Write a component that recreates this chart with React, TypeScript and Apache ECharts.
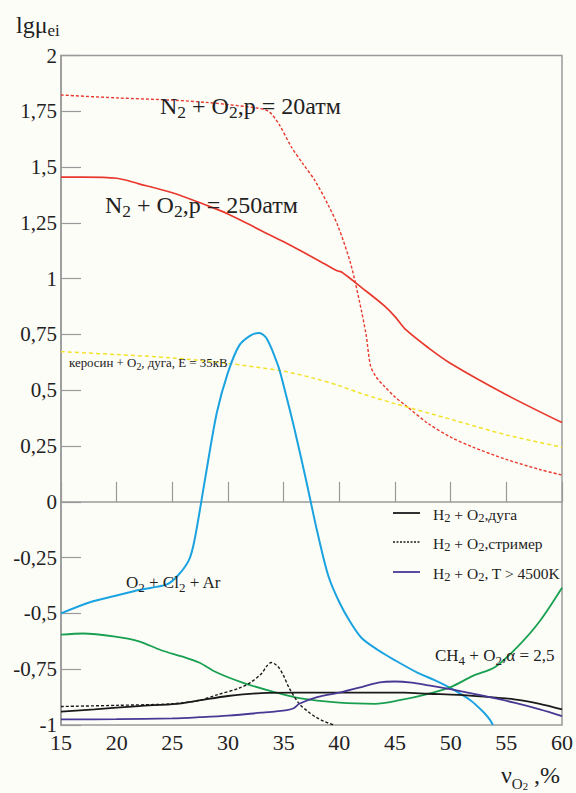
import React, { useEffect, useRef } from "react";
import * as echarts from "echarts";

const SERIF = "Liberation Serif";

// [vO2 %, lg mu_ei]
const n2o2p20: [number, number][] = [
  [15, 1.823], [20, 1.81], [25, 1.8], [28, 1.79], [30, 1.78], [32.8, 1.763], [33.7, 1.748],
  [34.6, 1.69], [35.7, 1.59], [36.8, 1.51], [37.8, 1.44], [39, 1.33], [39.9, 1.233],
  [41, 1.07], [41.8, 0.9], [42.4, 0.75], [42.8, 0.61], [43.3, 0.56], [44, 0.52], [45, 0.47],
  [46, 0.43], [48, 0.35], [50, 0.29], [52, 0.245], [55, 0.19], [58, 0.145], [60, 0.12],
];
const n2o2p250: [number, number][] = [
  [15, 1.455], [17, 1.455], [20, 1.45], [22, 1.425], [25, 1.385], [28, 1.33], [30, 1.29],
  [33, 1.215], [35, 1.165], [38, 1.085], [39.8, 1.035], [40.2, 1.03], [42, 0.96], [44, 0.88],
  [45, 0.83], [46, 0.77], [48, 0.69], [50, 0.62], [55, 0.48], [60, 0.355],
];
const kerosene: [number, number][] = [
  [15, 0.673], [20, 0.66], [25, 0.645], [30, 0.62], [35, 0.585], [38, 0.55], [40, 0.52],
  [42, 0.485], [45, 0.44], [50, 0.37], [55, 0.3], [60, 0.245],
];
const o2cl2ar: [number, number][] = [
  [15, -0.5], [17.6, -0.45], [20, -0.42], [22, -0.395], [24.5, -0.37], [25.5, -0.33],
  [26.5, -0.26], [27, -0.17], [28, 0.12], [29, 0.4], [30, 0.58], [31, 0.7], [32, 0.745],
  [32.8, 0.757], [33.5, 0.73], [34.5, 0.61], [35, 0.52], [36, 0.32], [37, 0.1], [38, -0.13],
  [39, -0.33], [40, -0.45], [41, -0.54], [42, -0.61], [43.5, -0.665], [45, -0.71], [47, -0.765],
  [48.6, -0.8], [50, -0.835], [51.8, -0.89], [53, -0.945], [53.5, -0.975], [53.8, -1.0],
];
const ch4o2: [number, number][] = [
  [15, -0.595], [17, -0.59], [20, -0.605], [22, -0.625], [24, -0.665], [26, -0.695],
  [27.4, -0.72], [29, -0.765], [31.3, -0.81], [34, -0.85], [36.4, -0.88], [40, -0.9],
  [43.2, -0.905], [45.3, -0.89], [48, -0.86], [50, -0.83], [52, -0.78], [54, -0.74],
  [56, -0.65], [58, -0.535], [60, -0.385],
];
const h2o2Arc: [number, number][] = [
  [15, -0.94], [18, -0.93], [22, -0.915], [25.4, -0.905], [27.4, -0.89], [30, -0.87],
  [33, -0.857], [36, -0.855], [40, -0.855], [45.8, -0.855], [48, -0.86], [50.7, -0.865],
  [53, -0.873], [55.7, -0.885], [58, -0.905], [60, -0.93],
];
const h2o2Streamer: [number, number][] = [
  [15, -0.917], [20, -0.912], [25, -0.905], [27.4, -0.89], [29, -0.865], [31, -0.835],
  [32, -0.81], [33, -0.77], [33.5, -0.735], [33.9, -0.72], [34.3, -0.73], [34.6, -0.745],
  [35, -0.78], [35.5, -0.835], [36.4, -0.905], [37.2, -0.94], [37.9, -0.965], [38.7, -0.985],
  [39.5, -1.0],
];
const h2o2Hot: [number, number][] = [
  [15, -0.975], [20, -0.974], [25, -0.97], [27.4, -0.965], [30, -0.958], [33, -0.945],
  [35.3, -0.933], [35.9, -0.925], [36.4, -0.905], [38, -0.875], [40, -0.855], [42, -0.83],
  [43.5, -0.81], [45, -0.805], [46.5, -0.81], [48, -0.822], [50.1, -0.84], [53, -0.87],
  [55.7, -0.9], [58, -0.93], [60, -0.96],
];

// text parts: [text, level] level 0 normal, 1 subscript, 2 sub-subscript
type Part = [string, number];
const yTitle: Part[] = [["lg", 0], ["μ", 0], ["ei", 1]];
const xTitle: Part[] = [["ν", 0], ["O", 1], ["2", 2], [" ,%", 0]];
const labelP20: Part[] = [["N", 0], ["2", 1], [" + O", 0], ["2", 1], [",p = 20атм", 0]];
const labelP250: Part[] = [["N", 0], ["2", 1], [" + O", 0], ["2", 1], [",p = 250атм", 0]];
const labelKerosene: Part[] = [["керосин + O", 0], ["2", 1], [", дуга, E = 35кВ", 0]];
const labelCl: Part[] = [["O", 0], ["2", 1], [" + Cl", 0], ["2", 1], [" + Ar", 0]];
const labelCH4: Part[] = [["CH", 0], ["4", 1], [" + O", 0], ["2", 1], [",α = 2,5", 0]];
const legendArc: Part[] = [["H", 0], ["2", 1], [" + O", 0], ["2", 1], [",дуга", 0]];
const legendStreamer: Part[] = [["H", 0], ["2", 1], [" + O", 0], ["2", 1], [",стример", 0]];
const legendHot: Part[] = [["H", 0], ["2", 1], [" + O", 0], ["2", 1], [", T > 4500K", 0]];

const INK = "#222222";

// F: main font size; s: subscript size; D: drop of the subscript centre (px)
function richText(x: number, yMid: number, parts: Part[], F: number, s: number, D: number, family = SERIF) {
  const s2 = s * 0.72;
  const Lmax = 2 * D + s;
  const rich: any = {
    n: { fontSize: F, fontFamily: family, lineHeight: Lmax, verticalAlign: "middle", fill: INK },
    s: { fontSize: s, fontFamily: family, lineHeight: s, verticalAlign: "bottom", fill: INK },
    t: { fontSize: s2, fontFamily: family, lineHeight: s2, verticalAlign: "bottom", fill: INK },
  };
  const text = parts.map(([t, l]) => `{${"nst"[l]}|${t}}`).join("");
  return {
    type: "text", x, y: yMid - Lmax / 2, z: 100,
    style: { text, rich, align: "left", verticalAlign: "top", fill: INK, fontFamily: family, fontSize: F },
  };
}

export default function App() {
  const ref = useRef<HTMLDivElement>(null);
  useEffect(() => {
    if (!ref.current) return;
    const chart = echarts.init(ref.current, undefined, { renderer: "svg" });
    const grey = "#9a9a9a";
    const line = (name: string, data: [number, number][], color: string, width: number, type: any) => ({
      name, type: "line", data, symbol: "none", showSymbol: false, smooth: 0.3,
      lineStyle: { color, width, type }, z: 5,
    });
    const legendY = [513, 542, 572];
    chart.setOption({
      animation: false,
      backgroundColor: "#fdfdf8",
      grid: { left: 61, right: 11, top: 55.5, bottom: 68, show: true, borderColor: grey, borderWidth: 1.5 },
      xAxis: {
        type: "value", min: 15, max: 60, interval: 5,
        axisLine: { show: true, lineStyle: { color: grey, width: 1.5 } },
        axisTick: { show: true, inside: true, length: 20, lineStyle: { color: grey, width: 1.2 } },
        axisLabel: { fontFamily: SERIF, fontSize: 22, color: INK, margin: 6 },
        splitLine: { show: false },
      },
      yAxis: {
        type: "value", min: -1, max: 2, interval: 0.25,
        axisLine: { show: true, lineStyle: { color: grey, width: 1.5 } },
        axisTick: { show: true, inside: true, length: 20, lineStyle: { color: grey, width: 1.2 } },
        axisLabel: {
          fontFamily: SERIF, fontSize: 21, color: INK, margin: 4,
          formatter: (v: number) => String(v).replace(".", ","),
        },
        splitLine: { show: false },
      },
      series: [
        line("N2 + O2, p = 20атм", n2o2p20, "#e8392e", 1.4, [3, 2]),
        line("N2 + O2, p = 250атм", n2o2p250, "#e8392e", 1.7, "solid"),
        line("керосин + O2, дуга, E = 35кВ", kerosene, "#f2e22a", 1.5, [4, 3]),
        line("O2 + Cl2 + Ar", o2cl2ar, "#1aa3e0", 2, "solid"),
        line("CH4 + O2, α = 2,5", ch4o2, "#18a050", 1.8, "solid"),
        line("H2 + O2, дуга", h2o2Arc, "#1a1a1a", 1.8, "solid"),
        line("H2 + O2, стример", h2o2Streamer, "#1a1a1a", 1.4, [3, 2]),
        line("H2 + O2, T > 4500K", h2o2Hot, "#4a3895", 1.8, "solid"),
      ],
      graphic: [
        richText(16, 25, yTitle, 24, 17, 5),
        richText(501, 775, xTitle, 24, 15, 9),
        richText(160, 106, labelP20, 24, 17.5, 6),
        richText(105, 205, labelP250, 24, 17.5, 6),
        richText(69, 363, labelKerosene, 12.9, 9.8, 3.5),
        richText(126, 582, labelCl, 17, 13, 5),
        richText(435, 655, labelCH4, 17, 13, 5),
        { type: "line", shape: { x1: 393, y1: legendY[0], x2: 420, y2: legendY[0] }, style: { stroke: "#1a1a1a", lineWidth: 1.8 }, z: 100 },
        { type: "line", shape: { x1: 393, y1: legendY[1], x2: 420, y2: legendY[1] }, style: { stroke: "#1a1a1a", lineWidth: 1.3, lineDash: [2, 1.5] }, z: 100 },
        { type: "line", shape: { x1: 393, y1: legendY[2], x2: 420, y2: legendY[2] }, style: { stroke: "#4a3895", lineWidth: 1.8 }, z: 100 },
        richText(433, legendY[0] + 1, legendArc, 15.5, 12.5, 4.5),
        richText(433, legendY[1] + 1, legendStreamer, 15.5, 12.5, 4.5),
        richText(433, legendY[2] + 1, legendHot, 15.5, 12.5, 4.5),
      ],
    });
    return () => chart.dispose();
  }, []);
  return (
    <div ref={ref} style={{ position: "fixed", left: 0, top: 0, width: 576, height: 793, background: "#fdfdf8" }} />
  );
}
